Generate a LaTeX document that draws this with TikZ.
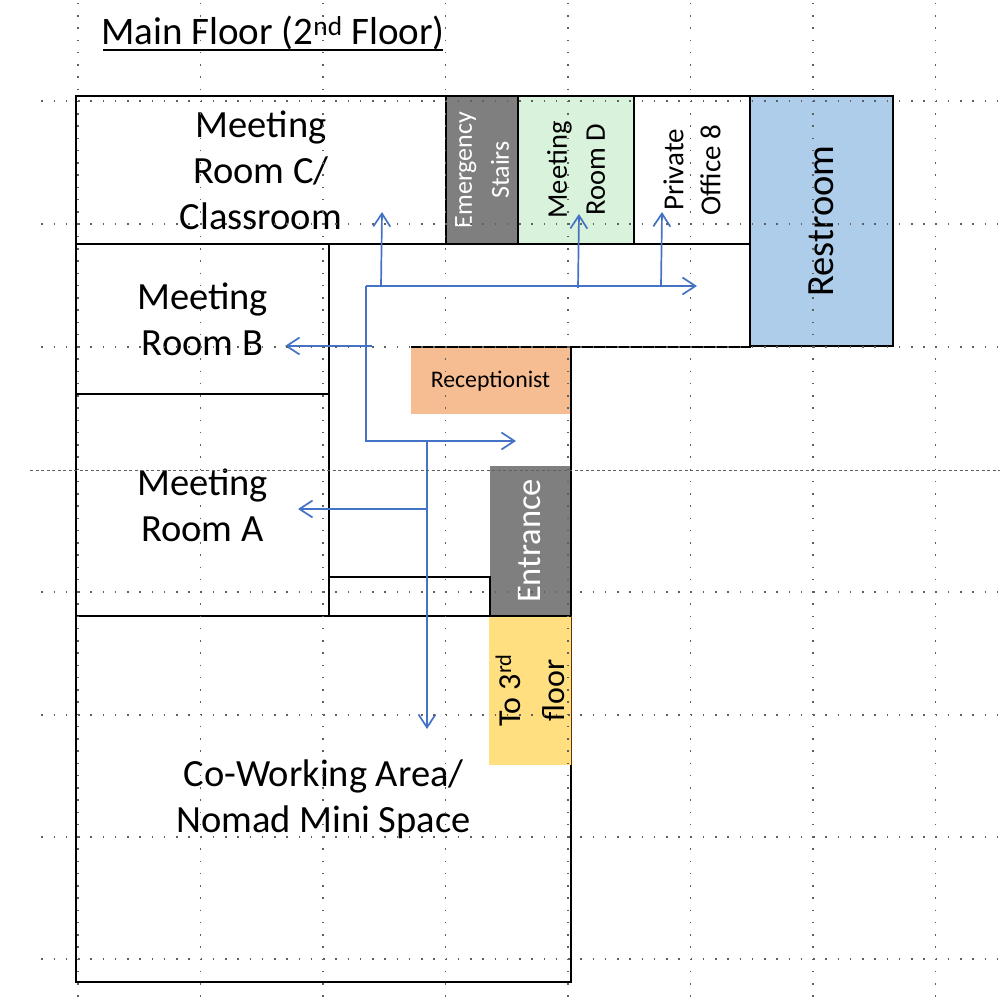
\documentclass[tikz,border=0pt]{standalone}
\usepackage{fontspec}
\setmainfont{Carlito}
\usetikzlibrary{arrows.meta}
\definecolor{walkblue}{HTML}{4472C4}
\definecolor{stairgray}{HTML}{7F7F7F}
\definecolor{roomgreen}{HTML}{D9F2DC}
\definecolor{restblue}{HTML}{AECDEA}
\definecolor{recorange}{HTML}{F7BD92}
\definecolor{upyellow}{HTML}{FFDF80}
\definecolor{dotgray}{HTML}{606060}
\tikzset{
  x=1pt,y=-1pt,
  room/.style={draw=black,line width=1.8pt,inner sep=0pt,outer sep=0pt,align=center,text=black},
  bigtext/.style={font=\fontsize{38.5}{46}\selectfont},
  wall/.style={draw=black,line width=2pt},
  walk/.style={draw=walkblue,line width=1.7pt},
  walkarrow/.style={walk,-{Straight Barb[length=13pt,width=17pt,line width=1.7pt]}},
  griddot/.style={draw=dotgray,line width=1.4pt,dash pattern=on 1.5pt off 10.75pt},
}
\begin{document}
\begin{tikzpicture}
\useasboundingbox (0,0) rectangle (1000,1000);
% rooms
\node[room,bigtext,minimum width=370pt,minimum height=148pt] (roomC) at (261,170) {Meeting\\Room C/\\Classroom};
\node[room,bigtext,minimum width=253pt,minimum height=150pt] (roomB) at (202.5,319) {Meeting\\Room B};
\node[room,bigtext,minimum width=253pt,minimum height=222pt] (roomA) at (202.5,505) {Meeting\\Room A};
\node[room,bigtext,minimum width=495pt,minimum height=366pt] (cowork) at (323.5,799) {Co-Working Area/\\Nomad Mini Space};
\node[room,fill=stairgray,text=white,rotate=90,font=\fontsize{26}{37}\selectfont,minimum width=148pt,minimum height=72pt] (stairs) at (482,170) {Emergency\\Stairs};
\node[room,fill=roomgreen,rotate=90,font=\fontsize{28.5}{38}\selectfont,minimum width=148pt,minimum height=116pt] (roomD) at (576,170) {Meeting\\Room D};
\node[room,rotate=90,font=\fontsize{29}{37}\selectfont,minimum width=148pt,minimum height=116pt] (office) at (692,170) {Private\\Office 8};
\node[room,fill=restblue,rotate=90,font=\fontsize{38.5}{46}\selectfont,minimum width=250pt,minimum height=143pt] (restroom) at (821.5,221) {Restroom};
\node[draw=none,fill=recorange,inner sep=0pt,outer sep=0pt,font=\fontsize{23.8}{28}\selectfont,minimum width=159pt,minimum height=66pt] (reception) at (490.5,381) {Receptionist};
\node[room,draw=none,fill=stairgray,text=white,rotate=90,font=\fontsize{34.5}{40}\selectfont,minimum width=150pt,minimum height=81pt] (entrance) at (530,541) {Entrance};
\node[room,minimum width=161pt,minimum height=39pt] (closet) at (409.5,596.5) {};
\node[draw=none,fill=upyellow,inner sep=0pt,outer sep=0pt,align=center,rotate=90,font=\fontsize{32}{44}\selectfont,minimum width=149pt,minimum height=82pt] (upstairs) at (530,690.5) {To 3\textsuperscript{rd}\\floor};
% title
\node[inner sep=0pt,outer sep=0pt,font=\fontsize{39}{46}\selectfont,anchor=base] (title) at (273,45) {Main Floor (2\textsuperscript{nd} Floor)};
\coordinate (ulL) at (103,50);
\coordinate (ulR) at (443,50);
\draw[draw=black,line width=2.6pt] (ulL) -- (ulR);
% walls
\coordinate (w1) at (329,244);
\coordinate (w2) at (750,244);
\coordinate (w3) at (750,347);
\coordinate (w4) at (411,347);
\coordinate (w5) at (571,347);
\coordinate (w6) at (571,616);
\draw[wall] (w1) -- (w2) -- (w3) -- (w4);
\draw[wall,line width=2.6pt] (w5) -- (w6);
\draw[wall,line width=1pt,draw=black!60!orange] (571,616) -- (571,765);
\draw[wall] (329,616) -- (571,616);
\draw[wall,line width=1.5pt] (roomC.north west) -- (restroom.south west |- roomC.north west);
\draw[wall] (restroom.north west) -- (restroom.north east);
% walking routes
\coordinate (hall) at (366,286);
\coordinate (hallEnd) at (697,286);
\coordinate (lobbyCorner) at (366,441);
\coordinate (lobbyEnd) at (516,441);
\coordinate (drop) at (427,441);
\coordinate (dropEnd) at (427,729);
\coordinate (aStart) at (427,509);
\coordinate (aEnd) at (298,509);
\coordinate (bStart) at (372,346);
\coordinate (bEnd) at (285,346);
\coordinate (cStart) at (381,286);
\coordinate (cEnd) at (382,212);
\coordinate (dStart) at (578,288);
\coordinate (dEnd) at (579,214);
\coordinate (oStart) at (661,286);
\coordinate (oEnd) at (662,212);
\draw[walkarrow] (hall) -- (hallEnd);
\draw[walkarrow] (hall) -- (lobbyCorner) -- (lobbyEnd);
\draw[walkarrow] (drop) -- (dropEnd);
\draw[walkarrow] (aStart) -- (aEnd);
\draw[walkarrow] (bStart) -- (bEnd);
\draw[walkarrow] (cStart) -- (cEnd);
\draw[walkarrow] (dStart) -- (dEnd);
\draw[walkarrow] (oStart) -- (oEnd);
% guide dots
\foreach \gx in {78,200.5,323,445.5,568,690.5,813,935.5}
  \draw[griddot] (\gx,3.0) -- (\gx,998);
\foreach \gy in {101,224,347,592,715,837,959}
  \draw[griddot] (41.25,\gy) -- (1000,\gy);
\draw[draw=dotgray,line width=1pt,dash pattern=on 3pt off 2.5pt] (30,470) -- (1000,470);
\end{tikzpicture}
\end{document}
